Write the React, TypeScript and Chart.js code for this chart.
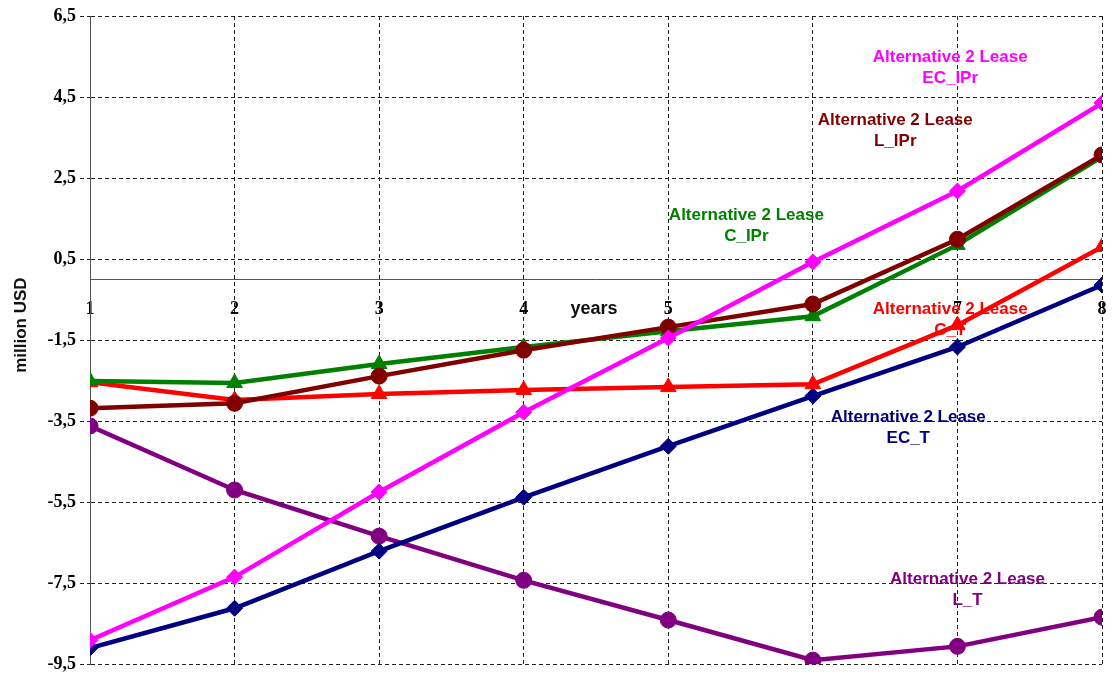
import React, { useEffect, useRef } from "react";
import { Chart, registerables } from "chart.js";

Chart.register(...registerables);

const years = [1, 2, 3, 4, 5, 6, 7, 8];
const ecIPr = [-8.91, -7.35, -5.25, -3.28, -1.45, 0.43, 2.18, 4.35];
const lIPr = [-3.18, -3.06, -2.39, -1.75, -1.18, -0.61, 0.99, 3.07];
const cIPr = [-2.51, -2.56, -2.09, -1.67, -1.28, -0.91, 0.85, 3.02];
const cT = [-2.54, -2.98, -2.83, -2.73, -2.66, -2.59, -1.13, 0.8];
const ecT = [-9.1, -8.12, -6.71, -5.38, -4.12, -2.88, -1.67, -0.14];
const lT = [-3.62, -5.2, -6.34, -7.43, -8.41, -9.4, -9.06, -8.34];

const seriesNames = ["EC_IPr", "L_IPr", "C_IPr", "C_T", "EC_T", "L_T"];
const seriesValues = [ecIPr, lIPr, cIPr, cT, ecT, lT];
const seriesColors = ["#FF00FF", "#800000", "#008000", "#FF0000", "#000080", "#800080"];
const seriesMarkers = ["rectRot", "circle", "triangle", "triangle", "rectRot", "circle"];
const labelPrefix = "Alternative 2 Lease";

// label anchor positions in data units (x, y)
const labelX = [6.95, 6.57, 5.54, 6.95, 6.66, 7.07];
const labelY = [5.22, 3.66, 1.31, -1.01, -3.67, -7.67];

const yMin = -9.5;
const yMax = 6.5;
const yStep = 2;

const tickFont = { family: "'Liberation Serif', 'Times New Roman', serif", size: 18, weight: "bold" };

const labelsPlugin = {
  id: "seriesLabels",
  beforeDatasetsDraw(chart: any) {
    const ctx = chart.ctx;
    const xs = chart.scales.x;
    const ys = chart.scales.y;
    ctx.save();
    ctx.font = "bold 17px 'Liberation Sans', Arial, sans-serif";
    ctx.textAlign = "center";
    ctx.textBaseline = "middle";
    seriesNames.forEach((name, i) => {
      const px = xs.getPixelForValue(labelX[i]);
      const py = ys.getPixelForValue(labelY[i]);
      ctx.fillStyle = seriesColors[i];
      ctx.fillText(labelPrefix, px, py - 10.5);
      ctx.fillText(name, px, py + 10.5);
    });
    const ca = chart.chartArea;
    ctx.fillStyle = "#111";
    ctx.font = "bold 18px 'Liberation Sans', Arial, sans-serif";
    ctx.fillText("years", (ca.left + ca.right) / 2 - 2, ys.getPixelForValue(0) + 30);
    // y axis title
    ctx.translate(21, (ca.top + ca.bottom) / 2 - 15);
    ctx.rotate(-Math.PI / 2);
    ctx.font = "bold 17px 'Liberation Sans', Arial, sans-serif";
    ctx.fillText("million USD", 0, 0);
    ctx.restore();
  },
};

export default function App() {
  const ref = useRef<HTMLCanvasElement | null>(null);
  useEffect(() => {
    document.body.style.margin = "0";
    const canvas = ref.current;
    if (!canvas) return;
    const chart = new Chart(canvas, {
      type: "line",
      data: {
        datasets: seriesNames.map((name, i) => ({
          label: name,
          data: years.map((x, j) => ({ x, y: seriesValues[i][j] })),
          borderColor: seriesColors[i],
          backgroundColor: seriesColors[i],
          borderWidth: 4.5,
          pointStyle: seriesMarkers[i] as any,
          pointRadius: seriesMarkers[i] === "triangle" ? 9 : 8,
          pointBorderWidth: 1,
          pointBorderColor: seriesColors[i],
          tension: 0,
          fill: false,
        })),
      },
      options: {
        animation: false,
        responsive: false,
        maintainAspectRatio: false,
        layout: { padding: { left: 0, right: 17, top: 16, bottom: 14 } },
        plugins: { legend: { display: false }, tooltip: { enabled: false } },
        scales: {
          x: {
            type: "linear",
            min: 1,
            max: 8,
            position: { y: 0 } as any,
            ticks: {
              stepSize: 1,
              padding: 2,
              color: "#000",
              font: tickFont,
            },
            grid: {
              color: "#222",
              lineWidth: 1,
              drawTicks: true,
              tickLength: 17,
              tickColor: "rgba(0,0,0,0)",
            },
            border: { display: true, color: "#555", width: 1, dash: [4, 3] },
          } as any,
          y: {
            type: "linear",
            min: yMin,
            max: yMax,
            ticks: {
              stepSize: yStep,
              padding: 4,
              color: "#000",
              font: tickFont,
              callback: (v: any) => Number(v).toFixed(1).replace(".", ","),
            },
            grid: {
              color: "#222",
              lineWidth: 1,
              drawTicks: true,
              tickLength: 10,
              tickBorderDash: [4, 3],
            },
            border: { display: true, color: "#555", width: 1, dash: [4, 3] },
            afterFit: (scale: any) => {
              scale.width = 90;
            },
          } as any,
        },
      },
      plugins: [labelsPlugin],
    });
    return () => chart.destroy();
  }, []);
  return (
    <div style={{ width: 1119, height: 679, background: "#fff" }}>
      <canvas ref={ref} width={1119} height={679} style={{ display: "block" }} />
    </div>
  );
}
